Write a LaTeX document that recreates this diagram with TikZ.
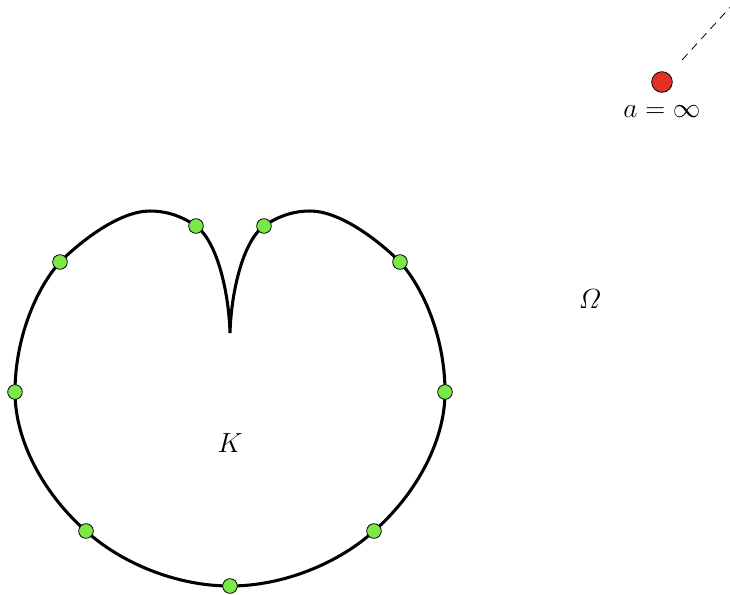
\documentclass[tikz,border=0pt]{standalone}
\usepackage{amssymb, amsmath}
\usepackage{tikz}
\usetikzlibrary{calc}
\definecolor{ptgreen}{RGB}{122, 232, 72}
\definecolor{ptred}{RGB}{226, 48, 36}

\begin{document}
\begin{tikzpicture}[x=0.0264cm, y=-0.0264cm,
   bdot/.style={circle, draw=black, fill=ptgreen, line width=0.6,
                inner sep=0, minimum size=11},
   infdot/.style={circle, draw=black, fill=ptred, line width=0.6,
                  inner sep=0, minimum size=15.5},
   lab/.style={font=\fontsize{20.5}{24}\selectfont}
  ]
  \useasboundingbox (0, 0) rectangle (730, 594);

  % boundary of K
  \draw[line width=2.3, line join=round]
    (230, 333) .. controls (231, 295) and (242, 242) .. (264, 226)
    .. controls (280, 215) and (295, 211) .. (310, 211)
    .. controls (340, 211) and (378, 240) .. (400, 262)
    .. controls (425, 290) and (445, 340) .. (445, 392)
    .. controls (445, 445) and (412, 498) .. (374, 531)
    .. controls (340, 562) and (285, 586) .. (230, 586)
    .. controls (175, 586) and (120, 562) .. (86, 531)
    .. controls (48, 498) and (15, 445) .. (15, 392)
    .. controls (15, 340) and (35, 290) .. (60, 262)
    .. controls (82, 240) and (120, 211) .. (150, 211)
    .. controls (165, 211) and (180, 215) .. (196, 226)
    .. controls (218, 242) and (229, 295) .. (230, 333);

  \foreach \N/\P in {B1/{(15, 392)}, B2/{(60, 262)}, B3/{(196, 226)},
                     B4/{(264, 226)}, B5/{(400, 262)}, B6/{(445, 392)},
                     B7/{(374, 531)}, B8/{(230, 586)}, B9/{(86, 531)}} {
    \node[bdot] (\N) at \P {};
  }

  \node[lab] (K) at (230, 443) {$K$};
  \node[lab] (Om) at (590, 299) {$\varOmega$};

  \node[infdot] (A) at (662, 82) {};
  \node[lab] (Alab) at (662, 112) {$a = \infty$};
  \coordinate (far) at (734, 3);
  \draw[dashed, dash pattern=on 6pt off 4.5pt, line width=0.6]
    ($(A)!0.28!(far)$) -- (far);

\end{tikzpicture}
\end{document}
